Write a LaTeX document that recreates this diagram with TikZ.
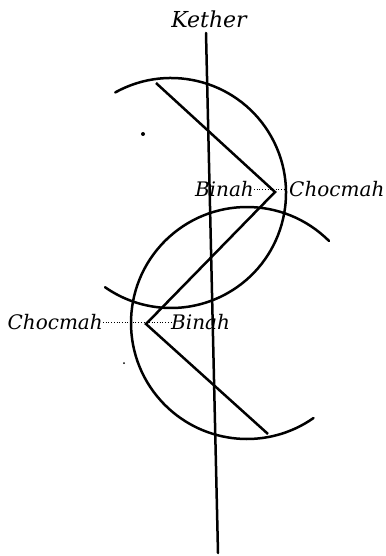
\documentclass[tikz,border=0pt]{standalone}
\usepackage{fontspec}
\usetikzlibrary{positioning, calc}
\newfontfamily\sefirafamily{DejaVu Serif}
\newcommand{\sefirafont}{\sefirafamily\itshape\fontsize{20}{22}\selectfont}

\begin{document}
\begin{tikzpicture}[x=1pt, y=-1pt,
    stroke/.style={line width=2.5pt, line cap=round},
    sefira/.style={font=\sefirafont, inner sep=0pt},
    link/.style={dotted, line width=0.7pt}]
  \useasboundingbox (0,0) rectangle (385,556);
  % the middle pillar
  \coordinate (top) at (206,33);
  \coordinate (bottom) at (218,553);
  \node[sefira, font=\sefirafont\fontsize{22}{24}\selectfont, anchor=south] (kether) at (209,28) {Kether};
  \draw[stroke] (top) -- (bottom);
  % the two crescents
  \coordinate (upc) at (171,193);
  \coordinate (loc) at (247,323);
  \draw[stroke] ($(upc)+(-119:115)$) arc[start angle=-119, end angle=125, radius=115];
  \draw[stroke] ($(loc)+(-45:116)$) arc[start angle=-45, end angle=-305, radius=116];
  % the flash
  \coordinate (z1) at (156,83);
  \coordinate (z2) at (275,192);
  \coordinate (z3) at (146,324);
  \coordinate (z4) at (268,434);
  \draw[stroke, line cap=butt] (z1) -- (z2) -- (z3) -- (z4);
  % names
  \node[sefira, anchor=east] (binahA) at (254,189) {Binah};
  \node[sefira, anchor=west] (chocmahA) at (289,189) {Chocmah};
  \draw[link] (binahA.east) -- (chocmahA.west);
  \node[sefira, anchor=east] (chocmahB) at (103,322) {Chocmah};
  \node[sefira, anchor=west] (binahB) at (171,322) {Binah};
  \draw[link] (chocmahB.east) -- (binahB.west);
  % specks
  \fill (143,134) circle[radius=2];
  \fill (124,363) circle[radius=1];
\end{tikzpicture}
\end{document}
